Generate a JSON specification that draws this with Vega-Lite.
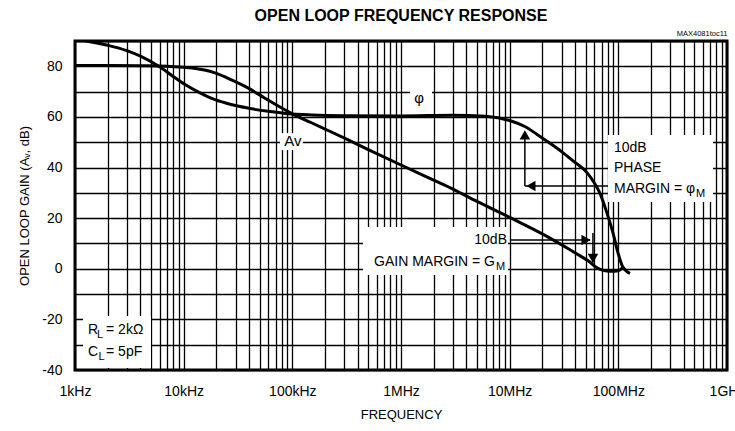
{
  "$schema": "https://vega.github.io/schema/vega-lite/v6.json",
  "width": 652,
  "height": 329,
  "autosize": {"type": "none"},
  "padding": {"left": 75, "top": 41, "right": 8, "bottom": 61},
  "background": "white",
  "title": {
    "text": "OPEN LOOP FREQUENCY RESPONSE",
    "font": "Liberation Sans",
    "fontSize": 16,
    "fontWeight": "bold",
    "color": "black",
    "anchor": "middle",
    "frame": "group",
    "offset": 5
  },
  "datasets": {
    "curves": [
      {"series": "phase", "f": 1000, "v": 90.6},
      {"series": "phase", "f": 1300, "v": 89.9},
      {"series": "phase", "f": 2000, "v": 88.3},
      {"series": "phase", "f": 3000, "v": 86.2},
      {"series": "phase", "f": 4000, "v": 84.0},
      {"series": "phase", "f": 6000, "v": 79.8},
      {"series": "phase", "f": 8000, "v": 76.0},
      {"series": "phase", "f": 10300, "v": 72.8},
      {"series": "phase", "f": 14000, "v": 69.6},
      {"series": "phase", "f": 19400, "v": 66.8},
      {"series": "phase", "f": 28000, "v": 64.8},
      {"series": "phase", "f": 39000, "v": 63.5},
      {"series": "phase", "f": 60000, "v": 62.2},
      {"series": "phase", "f": 91000, "v": 61.3},
      {"series": "phase", "f": 150000, "v": 60.8},
      {"series": "phase", "f": 300000, "v": 60.5},
      {"series": "phase", "f": 1000000, "v": 60.4},
      {"series": "phase", "f": 3000000, "v": 60.7},
      {"series": "phase", "f": 6000000, "v": 60.3},
      {"series": "phase", "f": 10000000, "v": 58.6},
      {"series": "phase", "f": 13800000, "v": 56.2},
      {"series": "phase", "f": 18000000, "v": 53.0},
      {"series": "phase", "f": 23500000, "v": 49.6},
      {"series": "phase", "f": 30000000, "v": 46.3},
      {"series": "phase", "f": 38300000, "v": 42.6},
      {"series": "phase", "f": 51500000, "v": 38.0},
      {"series": "phase", "f": 60000000, "v": 34.0},
      {"series": "phase", "f": 67800000, "v": 29.8},
      {"series": "phase", "f": 78600000, "v": 22.0},
      {"series": "phase", "f": 89300000, "v": 14.2},
      {"series": "phase", "f": 99400000, "v": 6.2},
      {"series": "phase", "f": 110000000, "v": 0.7},
      {"series": "phase", "f": 128000000, "v": -1.8},
      {"series": "gain", "f": 1000, "v": 80.3},
      {"series": "gain", "f": 2000, "v": 80.3},
      {"series": "gain", "f": 4000, "v": 80.2},
      {"series": "gain", "f": 7000, "v": 80.0},
      {"series": "gain", "f": 10000, "v": 79.6},
      {"series": "gain", "f": 12000, "v": 79.3},
      {"series": "gain", "f": 19400, "v": 77.4},
      {"series": "gain", "f": 28000, "v": 74.5},
      {"series": "gain", "f": 39000, "v": 71.5},
      {"series": "gain", "f": 55000, "v": 67.6},
      {"series": "gain", "f": 69000, "v": 65.1},
      {"series": "gain", "f": 100000, "v": 61.2},
      {"series": "gain", "f": 150000, "v": 57.7},
      {"series": "gain", "f": 200000, "v": 55.2},
      {"series": "gain", "f": 316000, "v": 51.2},
      {"series": "gain", "f": 500000, "v": 47.1},
      {"series": "gain", "f": 1000000, "v": 41.0},
      {"series": "gain", "f": 2000000, "v": 35.0},
      {"series": "gain", "f": 3000000, "v": 31.5},
      {"series": "gain", "f": 5000000, "v": 26.6},
      {"series": "gain", "f": 10000000, "v": 20.3},
      {"series": "gain", "f": 22000000, "v": 12.8},
      {"series": "gain", "f": 35000000, "v": 7.8},
      {"series": "gain", "f": 45000000, "v": 5.0},
      {"series": "gain", "f": 55000000, "v": 2.6},
      {"series": "gain", "f": 63000000, "v": 0.5},
      {"series": "gain", "f": 72000000, "v": -0.6},
      {"series": "gain", "f": 85000000, "v": -1.0},
      {"series": "gain", "f": 97000000, "v": -0.9},
      {"series": "gain", "f": 104000000, "v": -0.4},
      {"series": "gain", "f": 110000000, "v": 0.6}
    ],
    "boxes": [
      {"name": "phi", "f1": 1210000, "f2": 1930000, "v1": 63.5, "v2": 72.6},
      {"name": "av", "f1": 76900, "f2": 125000, "v1": 46.9, "v2": 53.6},
      {"name": "pm", "f1": 80300000, "f2": 743000000, "v1": 26.4, "v2": 52.9},
      {"name": "gm", "f1": 447000, "f2": 9660000, "v1": -2.45, "v2": 16.5},
      {"name": "rc", "f1": 1185, "f2": 5000, "v1": -39.2, "v2": -18.65}
    ],
    "arrows": [
      {"name": "pm-up", "f1": 13800000, "f2": 13800000, "v1": 32.7, "v2": 54},
      {"name": "pm-left", "f1": 13800000, "f2": 80300000, "v1": 32.7, "v2": 32.7},
      {"name": "gm-right", "f1": 10070000, "f2": 55000000, "v1": 11.4, "v2": 11.4},
      {"name": "gm-down", "f1": 58400000, "f2": 58400000, "v1": 14.1, "v2": 2.5}
    ],
    "heads": [
      {"dir": "up", "f": 13800000, "v": 52.9},
      {"dir": "left", "f": 15700000, "v": 32.7},
      {"dir": "right", "f": 50400000, "v": 11.4},
      {"dir": "down", "f": 58400000, "v": 4.1}
    ],
    "notes": [
      {"kind": "center", "text": "φ", "f": 1465000, "v": 67.5},
      {"kind": "center", "text": "Av", "f": 101000, "v": 50.5},
      {"kind": "left", "text": "10dB", "f": 91200000, "v": 47.7},
      {"kind": "left", "text": "PHASE", "f": 91200000, "v": 39.8},
      {"kind": "left", "text": "MARGIN = φ", "f": 91200000, "v": 31.5},
      {"kind": "sub", "text": "M", "f": 518000000, "v": 29.5},
      {"kind": "right", "text": "10dB", "f": 9450000, "v": 11.4},
      {"kind": "right", "text": "GAIN MARGIN = G", "f": 7330000, "v": 2.7},
      {"kind": "sub", "text": "M", "f": 7480000, "v": 0.6},
      {"kind": "left", "text": "R", "f": 1317, "v": -24.2},
      {"kind": "sub", "text": "L", "f": 1594, "v": -26.2},
      {"kind": "left", "text": "= 2kΩ", "f": 1930, "v": -24.2},
      {"kind": "left", "text": "C", "f": 1317, "v": -32.8},
      {"kind": "sub", "text": "L", "f": 1645, "v": -34.8},
      {"kind": "left", "text": "= 5pF", "f": 1930, "v": -32.8}
    ]
  },
  "resolve": {"axis": {"x": "independent", "y": "independent"}},
  "layer": [
    {
      "data": {"name": "boxes"},
      "mark": {"type": "rect", "fill": "white", "stroke": null},
      "encoding": {
        "x": {
          "field": "f1", "type": "quantitative",
          "scale": {"type": "log", "domain": [1000, 1000000000], "nice": false},
          "axis": {
            "orient": "bottom",
            "values": [1000,2000,3000,4000,5000,6000,7000,8000,9000,10000,20000,30000,40000,50000,60000,70000,80000,90000,100000,200000,300000,400000,500000,600000,700000,800000,900000,1000000,2000000,3000000,4000000,5000000,6000000,7000000,8000000,9000000,10000000,20000000,30000000,40000000,50000000,60000000,70000000,80000000,90000000,100000000,200000000,300000000,400000000,500000000,600000000,700000000,800000000,900000000,1000000000],
            "labelExpr": "datum.value == 1000 ? '1kHz' : datum.value == 10000 ? '10kHz' : datum.value == 100000 ? '100kHz' : datum.value == 1000000 ? '1MHz' : datum.value == 10000000 ? '10MHz' : datum.value == 100000000 ? '100MHz' : datum.value == 1000000000 ? '1GHz' : ''",
            "labelFontSize": 14,
            "labelPadding": 14,
            "labelFlush": false,
            "labelOverlap": false,
            "labelBound": false,
            "grid": true,
            "title": "FREQUENCY",
            "titleFontSize": 13,
            "titleFontWeight": "normal",
            "titlePadding": 10
          }
        },
        "x2": {"field": "f2"},
        "y": {
          "field": "v1", "type": "quantitative",
          "scale": {"domain": [-40, 90], "nice": false, "zero": false},
          "axis": {
            "values": [-40,-30,-20,-10,0,10,20,30,40,50,60,70,80,90],
            "labelExpr": "datum.value % 20 == 0 && datum.value < 90 ? '' + datum.value : ''",
            "labelFontSize": 14,
            "labelPadding": 13,
            "labelOverlap": false,
            "grid": true,
            "title": "OPEN LOOP GAIN (Aᵥ, dB)",
            "titleFontSize": 13,
            "titleFontWeight": "normal",
            "titlePadding": 10
          }
        },
        "y2": {"field": "v2"}
      }
    },
    {
      "data": {"name": "curves"},
      "mark": {"type": "line", "stroke": "black", "strokeWidth": 3, "clip": true, "interpolate": "monotone"},
      "encoding": {
        "x": {
          "field": "f", "type": "quantitative",
          "scale": {"type": "log", "domain": [1000, 1000000000], "nice": false},
          "axis": {
            "orient": "top", "labels": false, "ticks": false, "domain": false, "grid": false,
            "title": "MAX4081toc11", "titleAnchor": "end", "titleFontSize": 7.5,
            "titleFontWeight": "normal", "titlePadding": 4
          }
        },
        "y": {"field": "v", "type": "quantitative", "scale": {"domain": [-40, 90], "nice": false, "zero": false}, "axis": null},
        "detail": {"field": "series"}
      }
    },
    {
      "data": {"name": "arrows"},
      "mark": {"type": "rule", "stroke": "black", "strokeWidth": 1.5},
      "encoding": {
        "x": {"field": "f1", "type": "quantitative", "scale": {"type": "log", "domain": [1000, 1000000000], "nice": false}, "axis": null},
        "x2": {"field": "f2"},
        "y": {"field": "v1", "type": "quantitative", "scale": {"domain": [-40, 90], "nice": false, "zero": false}, "axis": null},
        "y2": {"field": "v2"}
      }
    },
    {
      "data": {"name": "heads"},
      "mark": {"type": "point", "filled": true, "fill": "black", "stroke": null, "opacity": 1, "size": 110},
      "encoding": {
        "x": {"field": "f", "type": "quantitative", "scale": {"type": "log", "domain": [1000, 1000000000], "nice": false}, "axis": null},
        "y": {"field": "v", "type": "quantitative", "scale": {"domain": [-40, 90], "nice": false, "zero": false}, "axis": null},
        "shape": {"field": "dir", "type": "nominal", "scale": {"domain": ["up", "left", "right", "down"], "range": ["triangle-up", "triangle-left", "triangle-right", "triangle-down"]}, "legend": null}
      }
    },
    {
      "data": {"name": "notes"},
      "transform": [{"filter": "datum.kind == 'center'"}],
      "mark": {"type": "text", "align": "center", "baseline": "middle", "fontSize": 15, "color": "black"},
      "encoding": {
        "x": {"field": "f", "type": "quantitative", "scale": {"type": "log", "domain": [1000, 1000000000], "nice": false}, "axis": null},
        "y": {"field": "v", "type": "quantitative", "scale": {"domain": [-40, 90], "nice": false, "zero": false}, "axis": null},
        "text": {"field": "text"}
      }
    },
    {
      "data": {"name": "notes"},
      "transform": [{"filter": "datum.kind == 'left'"}],
      "mark": {"type": "text", "align": "left", "baseline": "middle", "fontSize": 14, "color": "black"},
      "encoding": {
        "x": {"field": "f", "type": "quantitative", "scale": {"type": "log", "domain": [1000, 1000000000], "nice": false}, "axis": null},
        "y": {"field": "v", "type": "quantitative", "scale": {"domain": [-40, 90], "nice": false, "zero": false}, "axis": null},
        "text": {"field": "text"}
      }
    },
    {
      "data": {"name": "notes"},
      "transform": [{"filter": "datum.kind == 'right'"}],
      "mark": {"type": "text", "align": "right", "baseline": "middle", "fontSize": 14, "color": "black"},
      "encoding": {
        "x": {"field": "f", "type": "quantitative", "scale": {"type": "log", "domain": [1000, 1000000000], "nice": false}, "axis": null},
        "y": {"field": "v", "type": "quantitative", "scale": {"domain": [-40, 90], "nice": false, "zero": false}, "axis": null},
        "text": {"field": "text"}
      }
    },
    {
      "data": {"name": "notes"},
      "transform": [{"filter": "datum.kind == 'sub'"}],
      "mark": {"type": "text", "align": "left", "baseline": "middle", "fontSize": 11, "color": "black"},
      "encoding": {
        "x": {"field": "f", "type": "quantitative", "scale": {"type": "log", "domain": [1000, 1000000000], "nice": false}, "axis": null},
        "y": {"field": "v", "type": "quantitative", "scale": {"domain": [-40, 90], "nice": false, "zero": false}, "axis": null},
        "text": {"field": "text"}
      }
    }
  ],
  "config": {
    "font": "Liberation Sans",
    "view": {"stroke": "black", "strokeWidth": 3},
    "axis": {
      "gridColor": "black",
      "gridOpacity": 1,
      "gridWidth": 1.3,
      "labelColor": "black",
      "titleColor": "black",
      "labelFont": "Liberation Sans",
      "titleFont": "Liberation Sans",
      "domain": false,
      "ticks": false,
      "tickSize": 0
    }
  }
}
